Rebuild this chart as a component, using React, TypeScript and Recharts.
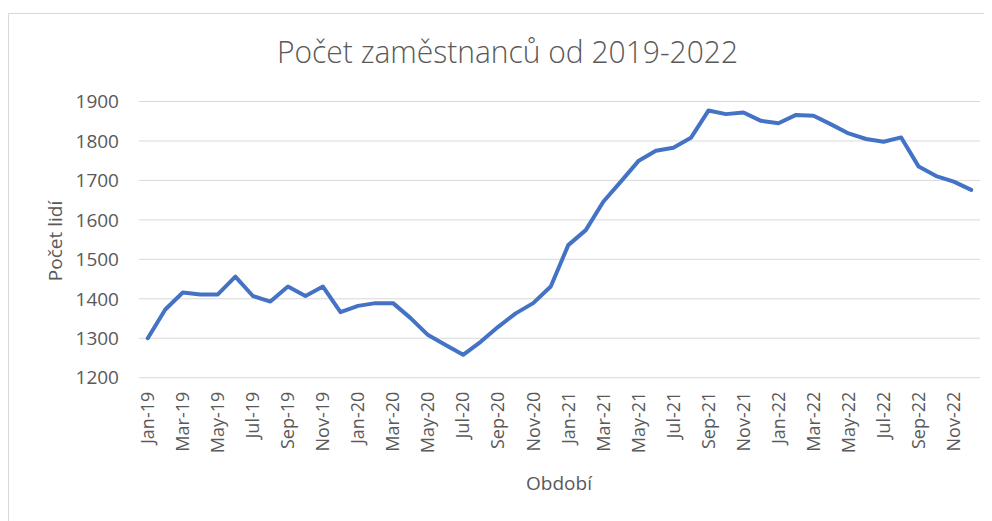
import React from 'react';
import { LineChart, Line, XAxis, YAxis, CartesianGrid } from 'recharts';

const months = [
  'Jan-19', 'Feb-19', 'Mar-19', 'Apr-19', 'May-19', 'Jun-19', 'Jul-19', 'Aug-19', 'Sep-19', 'Oct-19', 'Nov-19', 'Dec-19',
  'Jan-20', 'Feb-20', 'Mar-20', 'Apr-20', 'May-20', 'Jun-20', 'Jul-20', 'Aug-20', 'Sep-20', 'Oct-20', 'Nov-20', 'Dec-20',
  'Jan-21', 'Feb-21', 'Mar-21', 'Apr-21', 'May-21', 'Jun-21', 'Jul-21', 'Aug-21', 'Sep-21', 'Oct-21', 'Nov-21', 'Dec-21',
  'Jan-22', 'Feb-22', 'Mar-22', 'Apr-22', 'May-22', 'Jun-22', 'Jul-22', 'Aug-22', 'Sep-22', 'Oct-22', 'Nov-22', 'Dec-22',
];

const employees = [
  1300, 1373, 1416, 1411, 1411, 1456, 1407, 1393, 1431, 1407, 1431, 1366,
  1382, 1389, 1389, 1351, 1308, 1283, 1258, 1291, 1329, 1363, 1389, 1431,
  1536, 1574, 1646, 1697, 1749, 1775, 1783, 1808, 1877, 1868, 1872, 1851,
  1845, 1866, 1864, 1842, 1819, 1805, 1798, 1809, 1735, 1711, 1697, 1676,
];

const yTicks = [1200, 1300, 1400, 1500, 1600, 1700, 1800, 1900];

const title = 'Počet zaměstnanců od 2019-2022';
const yTitle = 'Počet lidí';
const xTitle = 'Období';

const data = months.map((m, i) => ({ month: m, value: employees[i] }));

const TEXT = '#595959';
const FONT = '"Open Sans", "Noto Sans", sans-serif';

const XTick = (props: any) => {
  const { x, y, payload } = props;
  return (
    <g transform={`translate(${x},${y})`}>
      <text
        transform="rotate(-90)"
        textAnchor="end"
        dy="0.35em"
        fill={TEXT}
        fontSize={18}
        fontFamily={FONT}
      >
        {payload.value}
      </text>
    </g>
  );
};

const W = 984;
const H = 513;

export default function App() {
  return (
    <div style={{ position: 'relative', width: W, height: H, overflow: 'hidden', background: '#fff' }}>
      <LineChart
        width={W}
        height={H}
        data={data}
        margin={{ top: 93.5, right: 12, left: 71, bottom: 43.3 }}
      >
        <CartesianGrid vertical={false} stroke="#d9d9d9" strokeWidth={1} />
        <XAxis
          dataKey="month"
          interval={1}
          tick={<XTick />}
          tickLine={false}
          axisLine={false}
          tickMargin={8}
          height={100}
          padding={{ left: 8.76, right: 8.76 }}
        />
        <YAxis
          domain={[1200, 1900]}
          ticks={yTicks}
          width={60}
          tickLine={false}
          axisLine={false}
          tickMargin={14}
          tick={{ fill: TEXT, fontSize: 19, fontFamily: FONT }}
        />
        <Line
          type="linear"
          dataKey="value"
          stroke="#4472C4"
          strokeWidth={4}
          strokeLinejoin="round"
          strokeLinecap="round"
          dot={false}
          activeDot={false}
          isAnimationActive={false}
        />
      </LineChart>
      <svg
        width={W}
        height={H}
        style={{ position: 'absolute', left: 0, top: 0, pointerEvents: 'none' }}
      >
        <line x1={0.5} y1={5} x2={0.5} y2={H} stroke="#d9d9d9" strokeWidth={1} />
        <line x1={0} y1={5.5} x2={W} y2={5.5} stroke="#d9d9d9" strokeWidth={1} />
        <text
          x={499.5}
          y={55}
          textAnchor="middle"
          fill={TEXT}
          fontSize={31}
          fontWeight={300}
          fontFamily={FONT}
          textLength={461}
          lengthAdjust="spacingAndGlyphs"
        >
          {title}
        </text>
        <text
          transform="translate(47,233) rotate(-90)"
          textAnchor="middle"
          dy="0.35em"
          fill={TEXT}
          fontSize={19}
          fontFamily={FONT}
        >
          {yTitle}
        </text>
        <text
          x={551}
          y={475}
          textAnchor="middle"
          dy="0.35em"
          fill={TEXT}
          fontSize={19}
          fontFamily={FONT}
        >
          {xTitle}
        </text>
      </svg>
    </div>
  );
}
